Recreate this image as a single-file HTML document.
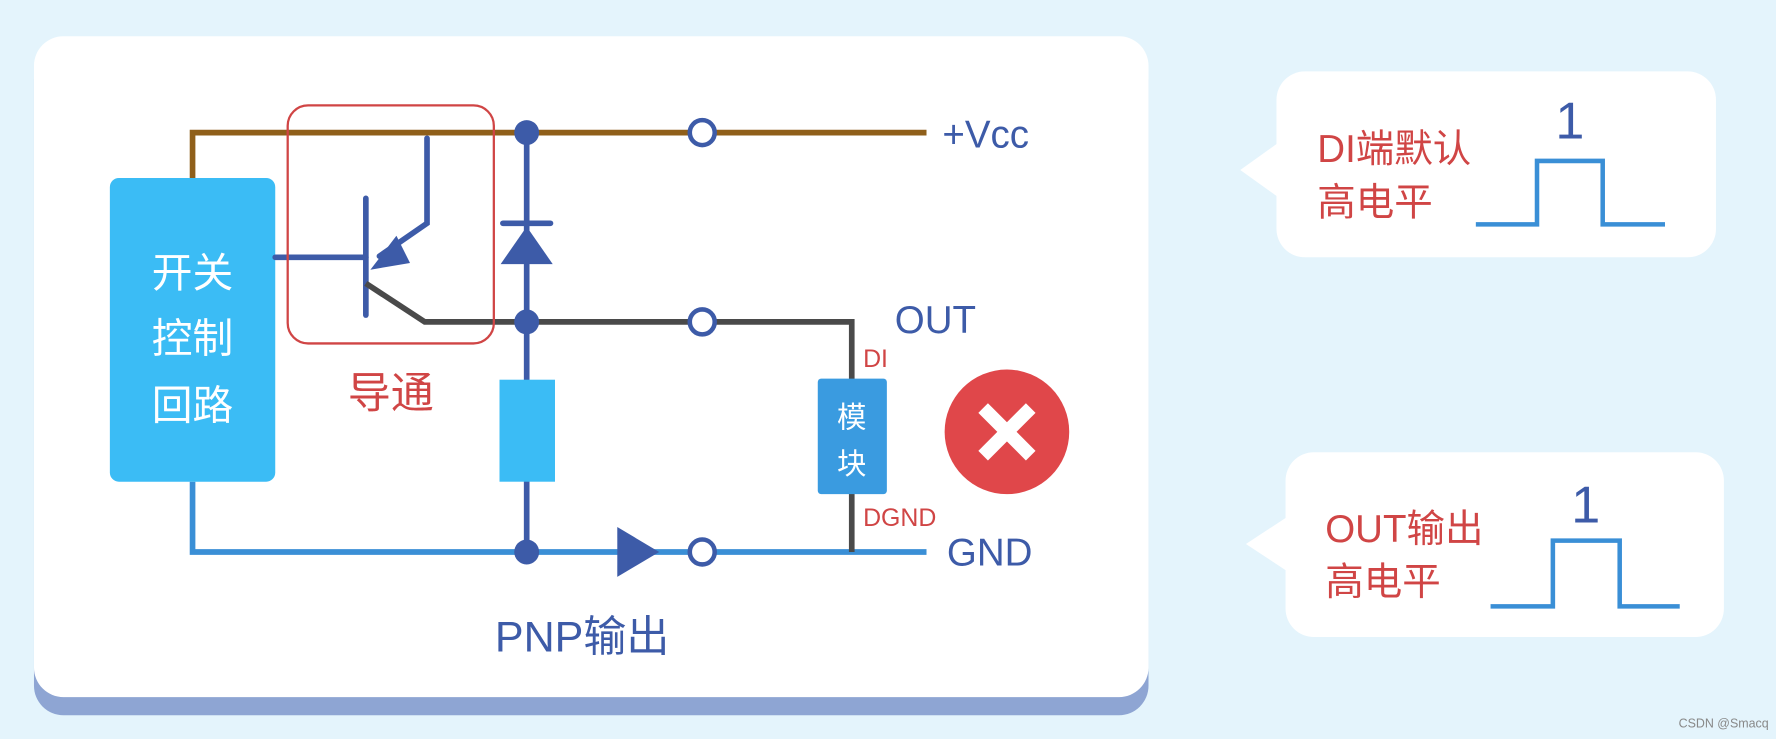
<!DOCTYPE html>
<html><head><meta charset="utf-8"><style>
html,body{margin:0;padding:0;background:#e4f4fc;}
svg{display:block}
text{font-family:"Liberation Sans","Noto Sans CJK SC",sans-serif;}
</style></head><body>
<svg width="1776" height="739" viewBox="0 0 1568 652" preserveAspectRatio="none" xmlns="http://www.w3.org/2000/svg">
<rect width="1568" height="652" fill="#e4f4fc"/>
<rect x="30" y="44" width="984" height="587" rx="26" fill="#8ea5d3"/>
<rect x="30" y="32" width="984" height="583" rx="26" fill="#fff"/>
<!-- Vcc line -->
<polyline points="170,157 170,117 818,117" fill="none" stroke="#8f5f1a" stroke-width="5"/>
<!-- GND line -->
<polyline points="170,425 170,487 818,487" fill="none" stroke="#3a8fd6" stroke-width="5"/>
<!-- block -->
<rect x="97" y="157" width="146" height="268" rx="8" fill="#3bbcf5"/>
<g fill="#fff" font-size="36" text-anchor="middle">
<text x="170" y="253">开关</text><text x="170" y="311">控制</text><text x="170" y="370">回路</text></g>
<!-- transistor -->
<g stroke="#3d5ba8" stroke-width="5" fill="none" stroke-linecap="round">
<line x1="243" y1="227" x2="323" y2="227"/>
<line x1="323" y1="175" x2="323" y2="278"/>
<polyline points="377,122 377,197 335,226"/>
</g>
<polygon points="327,238 350,208 362,232" fill="#3d5ba8"/>
<polyline points="323,250 375,284 752,284 752,487" fill="none" stroke="#4a4a4a" stroke-width="5"/>
<rect x="254" y="93" width="182" height="210" rx="18" fill="none" stroke="#d04545" stroke-width="2"/>
<!-- vertical node line -->
<line x1="465" y1="117" x2="465" y2="487" stroke="#3d5ba8" stroke-width="5"/>
<line x1="444" y1="197" x2="486" y2="197" stroke="#3d5ba8" stroke-width="5" stroke-linecap="round"/>
<polygon points="465,200 442,233 488,233" fill="#3d5ba8"/>
<rect x="441" y="335" width="49" height="90" fill="#3bbcf5"/>
<g fill="#3d5ba8"><circle cx="465" cy="117" r="11"/><circle cx="465" cy="284" r="11"/><circle cx="465" cy="487" r="11"/></g>
<g fill="#fff" stroke="#3d5ba8" stroke-width="4"><circle cx="620" cy="117" r="11"/><circle cx="620" cy="284" r="11"/><circle cx="620" cy="487" r="11"/></g>
<polygon points="545,465 582,487 545,509" fill="#3d5ba8"/>
<!-- module -->
<rect x="722" y="334" width="61" height="102" rx="3" fill="#3a9be0"/>
<g fill="#fff" font-size="26" text-anchor="middle"><text x="752" y="377">模</text><text x="752" y="418">块</text></g>
<g fill="#3d5ba8" font-size="34"><text x="832" y="130">+Vcc</text><text x="790" y="294">OUT</text><text x="836" y="499">GND</text></g>
<g fill="#d04545" font-size="22"><text x="762" y="324">DI</text><text x="762" y="464">DGND</text></g>
<text x="345" y="360" fill="#d04545" font-size="38" text-anchor="middle">导通</text>
<text x="514" y="575" fill="#3d5ba8" font-size="38" text-anchor="middle">PNP输出</text>
<circle cx="889" cy="381" r="55" fill="#e0474a"/>
<g stroke="#fff" stroke-width="12"><line x1="868" y1="360" x2="910" y2="402"/><line x1="910" y1="360" x2="868" y2="402"/></g>
<!-- bubbles -->
<rect x="1127" y="63" width="388" height="164" rx="25" fill="#fff"/>
<polygon points="1095,150 1130,125 1130,175" fill="#fff"/>
<g fill="#d04545" font-size="34"><text x="1163" y="143">DI端默认</text><text x="1163" y="190">高电平</text></g>
<polyline points="1303,198 1357,198 1357,142 1415,142 1415,198 1470,198" fill="none" stroke="#3a8fd6" stroke-width="4"/>
<text x="1386" y="122" fill="#3d5ba8" font-size="46" text-anchor="middle">1</text>
<rect x="1135" y="399" width="387" height="163" rx="25" fill="#fff"/>
<polygon points="1100,480 1138,455 1138,505" fill="#fff"/>
<g fill="#d04545" font-size="34"><text x="1170" y="478">OUT输出</text><text x="1170" y="525">高电平</text></g>
<polyline points="1316,535 1371,535 1371,477 1430,477 1430,535 1483,535" fill="none" stroke="#3a8fd6" stroke-width="4"/>
<text x="1400" y="461" fill="#3d5ba8" font-size="46" text-anchor="middle">1</text>
<text x="1482" y="642" fill="#888" font-size="11">CSDN @Smacq</text>
</svg>
</body></html>
